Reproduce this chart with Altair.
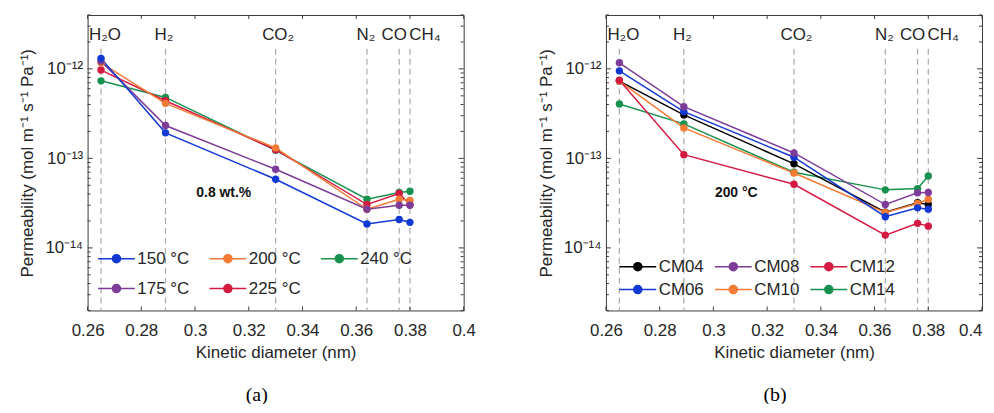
import altair as alt
import pandas as pd

# ---------------- data ----------------
gases = ["H₂O", "H₂", "CO₂", "N₂", "CO", "CH₄"]
kinetic_d = [0.265, 0.289, 0.33, 0.364, 0.376, 0.38]

temps = ["150 °C", "175 °C", "200 °C", "225 °C", "240 °C"]
perm_150 = [1.31e-12, 1.93e-13, 5.84e-14, 1.85e-14, 2.08e-14, 1.93e-14]
perm_175 = [1.22e-12, 2.33e-13, 7.55e-14, 2.71e-14, 3.00e-14, 3.00e-14]
perm_200 = [1.17e-12, 4.12e-13, 1.31e-13, 2.70e-14, 3.50e-14, 3.40e-14]
perm_225 = [9.70e-13, 4.40e-13, 1.25e-13, 3.05e-14, 4.05e-14, 3.05e-14]
perm_240 = [7.35e-13, 4.80e-13, 1.23e-13, 3.50e-14, 4.16e-14, 4.30e-14]

membranes = ["CM04", "CM06", "CM08", "CM10", "CM12", "CM14"]
cm04 = [7.30e-13, 3.06e-13, 8.70e-14, 2.50e-14, 3.19e-14, 3.05e-14]
cm06 = [9.50e-13, 3.33e-13, 1.03e-13, 2.23e-14, 2.80e-14, 2.71e-14]
cm08 = [1.17e-12, 3.78e-13, 1.15e-13, 3.05e-14, 4.12e-14, 4.16e-14]
cm10 = [7.30e-13, 2.19e-13, 6.87e-14, 2.49e-14, 3.13e-14, 3.50e-14]
cm12 = [7.48e-13, 1.10e-13, 5.14e-14, 1.39e-14, 1.88e-14, 1.75e-14]
cm14 = [4.05e-13, 2.43e-13, 7.00e-14, 4.45e-14, 4.60e-14, 6.36e-14]

x_ticks = [0.26, 0.28, 0.30, 0.32, 0.34, 0.36, 0.38, 0.40]
y_major = [1e-14, 1e-13, 1e-12]
y_labels = ["10⁻¹⁴", "10⁻¹³", "10⁻¹²"]
y_minor = [m * d for d in [1e-15, 1e-14, 1e-13, 1e-12] for m in range(2, 10)
           if 2e-15 <= m * d <= 4e-12]

note_a = {"text": "0.8 wt.%", "x": 0.3107, "y": 4.08e-14}
note_b = {"text": "200 °C", "x": 0.3085, "y": 4.1e-14}

# ---------------- styling ----------------
W, H = 378, 297
FONT = "Liberation Sans"
TXT = "#262626"
FRAME = "#3a3a3a"
BLUE, PURPLE, ORANGE, RED, GREEN, BLACK = "#1339d4", "#7d3c98", "#f47b35", "#d51a42", "#19914e", "#000000"
GAS_LABEL_DX = {"H₂O": 4, "H₂": -1.5, "CO₂": 2.5, "N₂": -1, "CO": -5, "CH₄": 15}

xs = alt.Scale(domain=[0.26, 0.40], nice=False, zero=False)
ys = alt.Scale(type="log", domain=[2e-15, 4e-12], nice=False)

label_expr = ("datum.value > 5e-13 ? '%s' : datum.value > 5e-14 ? '%s' : '%s'"
              % (y_labels[2], y_labels[1], y_labels[0]))


def make_xaxis(flush_last):
    kw = {}
    if flush_last:
        kw["labelAlign"] = {"condition": {"test": "datum.value >= 0.399", "value": "right"},
                            "value": "center"}
    return alt.Axis(values=x_ticks, format="~g", tickSize=0, domain=False, grid=False,
                    labelFlush=False, labelOverlap=False,
                    labelPadding=12, title="Kinetic diameter (nm)", titlePadding=6, **kw)


yaxis = alt.Axis(values=y_major, labelExpr=label_expr, tickSize=0, domain=False, grid=False,
                 labelFlush=False, labelOverlap=False,
                 labelPadding=5, title="Permeability (mol m⁻¹ s⁻¹ Pa⁻¹)", titlePadding=8)

# legend symbol: a line with a dot; unit box is scaled to half its length
legend_path = ("M-2,0L2,0M-0.44,0A0.44,0.44,0,1,1,0.44,0"
               "A0.44,0.44,0,1,1,-0.44,0Z")


def long_df(names, series):
    rows = []
    for n, vals in zip(names, series):
        for g, xv, yv in zip(gases, kinetic_d, vals):
            rows.append({"s": n, "gas": g, "x": xv, "y": yv})
    return pd.DataFrame(rows)


def panel(df, domain, colors, draw_order, note, title, lx, ly, col_pad, row_pad, flush_last):
    X = alt.X("x:Q", scale=xs, axis=make_xaxis(flush_last))
    Y = alt.Y("y:Q", scale=ys, axis=yaxis)
    cs = alt.Scale(domain=domain, range=colors)
    leg = alt.Legend(title=None, orient="none", legendX=lx, legendY=ly, columns=3,
                     symbolType=legend_path, symbolSize=342, symbolStrokeWidth=1.5,
                     labelFontSize=17, labelFont=FONT, labelColor=TXT, labelOffset=11,
                     columnPadding=col_pad, rowPadding=row_pad)
    df = df.copy()
    df["o"] = df["s"].map({n: i for i, n in enumerate(draw_order)})
    df = df.sort_values(["o", "x"])

    gas_df = pd.DataFrame({"gas": gases, "x": kinetic_d})
    dashes = alt.Chart(gas_df).mark_rule(color="#ababab", strokeDash=[6, 4], strokeWidth=1.2).encode(
        x=X, y=alt.value(34), y2=alt.value(H))
    gas_lbls = [
        alt.Chart(gas_df).transform_filter(alt.FieldEqualPredicate(field="gas", equal=g)).mark_text(
            fontSize=17, font=FONT, color=TXT, baseline="middle", align="center",
            dx=GAS_LABEL_DX[g]).encode(x=X, y=alt.value(20), text="gas:N")
        for g in gases
    ]

    lines = alt.Chart(df).mark_line(strokeWidth=1.5).encode(
        x=X, y=Y, color=alt.Color("s:N", scale=cs, legend=leg), detail="s:N", order="x:Q")
    pts = alt.Chart(df).mark_point(filled=True, size=55, opacity=1).encode(
        x=X, y=Y, color=alt.Color("s:N", scale=cs, legend=leg))

    note_t = alt.Chart(pd.DataFrame([note])).mark_text(
        fontSize=14, font=FONT, fontWeight="bold", color="#111111").encode(x=X, y=Y, text="text:N")

    xt = pd.DataFrame({"x": x_ticks})
    tick_b = alt.Chart(xt).mark_rule(color=FRAME).encode(x=X, y=alt.value(H), y2=alt.value(H - 4))
    tick_t = alt.Chart(xt).mark_rule(color=FRAME).encode(x=X, y=alt.value(0), y2=alt.value(4))
    ymj = pd.DataFrame({"y": y_major})
    ymn = pd.DataFrame({"y": y_minor})
    tick_l = alt.Chart(ymj).mark_rule(color=FRAME).encode(y=Y, x=alt.value(0), x2=alt.value(5))
    tick_r = alt.Chart(ymj).mark_rule(color=FRAME).encode(y=Y, x=alt.value(W), x2=alt.value(W - 5))
    mtick_l = alt.Chart(ymn).mark_rule(color=FRAME).encode(y=Y, x=alt.value(0), x2=alt.value(3))
    mtick_r = alt.Chart(ymn).mark_rule(color=FRAME).encode(y=Y, x=alt.value(W), x2=alt.value(W - 3))

    return alt.layer(dashes, *gas_lbls, lines, pts, note_t,
                     tick_b, tick_t, tick_l, tick_r, mtick_l, mtick_r).properties(
        width=W, height=H,
        title=alt.TitleParams(title, orient="bottom", font="Liberation Serif", fontSize=20,
                              fontWeight="normal", color="#000000", dx=-19, offset=25))


df_a = long_df(temps, [perm_150, perm_175, perm_200, perm_225, perm_240])
df_b = long_df(membranes, [cm04, cm06, cm08, cm10, cm12, cm14])

pa = panel(df_a, temps, [BLUE, PURPLE, ORANGE, RED, GREEN],
           ["240 °C", "225 °C", "200 °C", "175 °C", "150 °C"],
           note_a, "(a)", 19, 235, 16, 12, False)
pb = panel(df_b, membranes, [BLACK, BLUE, PURPLE, ORANGE, RED, GREEN],
           ["CM14", "CM04", "CM10", "CM06", "CM08", "CM12"],
           note_b, "(b)", 22, 243, 7, 5, True)

chart = alt.HConcatChart(hconcat=[pa, pb], spacing=143, bounds="flush").resolve_scale(
    color="independent").properties(
    padding={"left": 10, "top": 5, "right": 3, "bottom": -3}, background="white"
).configure_view(stroke=FRAME, strokeWidth=1).configure_axis(
    labelFont=FONT, labelFontSize=17, labelColor=TXT, titleFont=FONT, titleFontSize=17,
    titleColor=TXT, titleFontWeight="normal"
)

chart.save("out.html", embed_options={"renderer": "svg", "actions": False})
